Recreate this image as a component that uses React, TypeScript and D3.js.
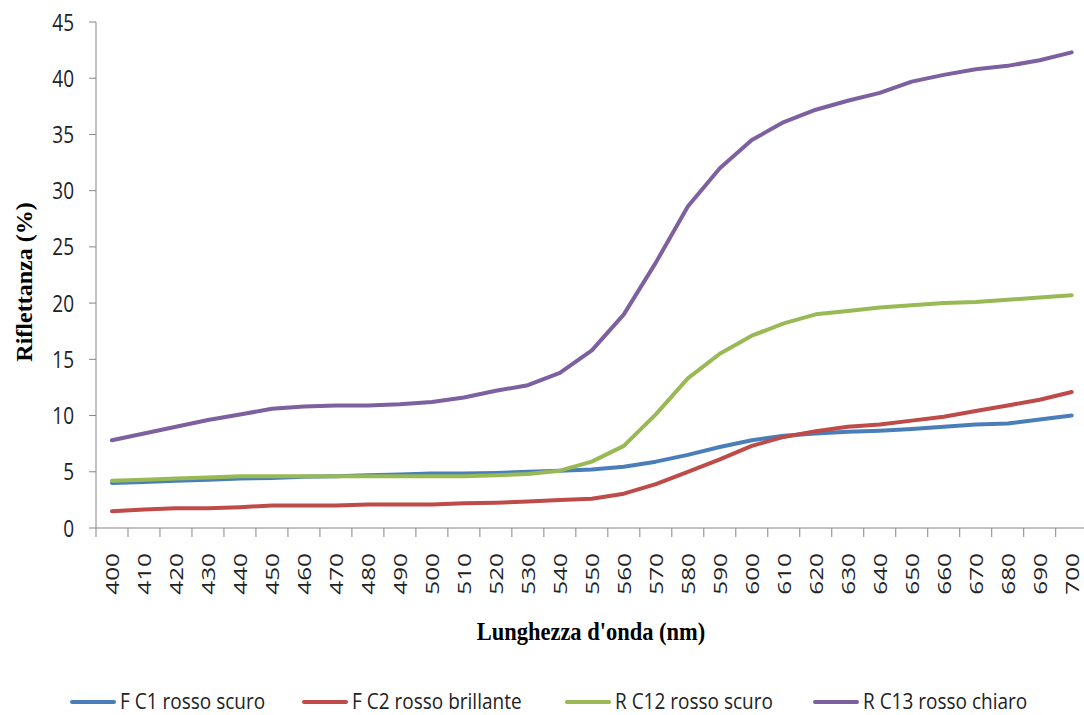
import React from "react";
import * as d3 from "d3";

const wavelengths = [400,410,420,430,440,450,460,470,480,490,500,510,520,530,540,550,560,570,580,590,600,610,620,630,640,650,660,670,680,690,700];
const fc1 = [4.0,4.1,4.2,4.3,4.4,4.45,4.55,4.6,4.7,4.75,4.85,4.85,4.9,5.0,5.1,5.2,5.45,5.9,6.5,7.2,7.8,8.2,8.4,8.55,8.65,8.8,9.0,9.2,9.3,9.65,10.0];
const fc2 = [1.5,1.65,1.75,1.75,1.85,2.0,2.0,2.0,2.1,2.1,2.1,2.2,2.25,2.35,2.5,2.6,3.05,3.9,5.0,6.1,7.3,8.1,8.6,9.0,9.2,9.55,9.9,10.4,10.9,11.4,12.1];
const rc12 = [4.2,4.3,4.4,4.5,4.6,4.6,4.6,4.6,4.6,4.6,4.6,4.6,4.7,4.8,5.1,5.9,7.3,10.1,13.3,15.5,17.1,18.2,19.0,19.3,19.6,19.8,20.0,20.1,20.3,20.5,20.7];
const rc13 = [7.8,8.4,9.0,9.6,10.1,10.6,10.8,10.9,10.9,11.0,11.2,11.6,12.2,12.7,13.8,15.8,19.0,23.6,28.6,32.0,34.5,36.1,37.2,38.0,38.7,39.7,40.3,40.8,41.1,41.6,42.3];
const seriesNames = ["F C1 rosso scuro","F C2 rosso brillante","R C12 rosso scuro","R C13 rosso chiaro"];
const seriesColors = ["#4a7ebb","#be4b48","#98b954","#7d60a0"];
const yTicks = [0,5,10,15,20,25,30,35,40,45];

export default function App() {
  const W = 1084, H = 715;
  const left = 96, top = 22, bottom = 528;
  const bw = 31.99;
  const right = left + bw * wavelengths.length;
  const x = d3.scaleBand<number>().domain(wavelengths).range([left, right]);
  const y = d3.scaleLinear().domain([0, 45]).range([bottom, top]);
  const all = [fc1, fc2, rc12, rc13];
  const line = d3.line<number>()
    .x((_, i) => (x(wavelengths[i]) as number) + x.bandwidth() / 2)
    .y((v) => y(v));
  const axisColor = "#868686";
  const tickFont = "'Open Sans', 'Liberation Sans', sans-serif";
  const legendFont = "'Open Sans', sans-serif";
  const legendX = [70, 302, 565, 813];
  return (
    <svg width={W} height={H} style={{ position: "absolute", left: 0, top: 0 }}>
      <rect width={W} height={H} fill="#fff" />
      {/* y axis */}
      <line x1={left} x2={left} y1={top} y2={bottom} stroke={axisColor} strokeWidth={1} />
      {yTicks.map((t) => (
        <g key={t}>
          <line x1={left - 7} x2={left} y1={y(t)} y2={y(t)} stroke={axisColor} />
          <text transform={`translate(74,${y(t)}) scale(1,1.25)`} dy="0.36em" textAnchor="end" fontFamily={tickFont} fontSize={19} fill="#222">{t}</text>
        </g>
      ))}
      {/* x axis */}
      <line x1={left} x2={right} y1={bottom} y2={bottom} stroke={axisColor} />
      {wavelengths.map((w, i) => (
        <line key={"t" + w} x1={left + i * bw} x2={left + i * bw} y1={bottom} y2={bottom + 9} stroke={axisColor} />
      ))}
      {wavelengths.map((w) => {
        const cx = (x(w) as number) + x.bandwidth() / 2;
        return (
          <text key={"l" + w} transform={`translate(${cx},553) rotate(-90) scale(1.28,1)`} textAnchor="end" dy="0.36em" fontFamily={tickFont} fontSize={19} fill="#222">{w}</text>
        );
      })}
      {/* lines */}
      {all.map((s, k) => (
        <path key={k} d={line(s) as string} fill="none" stroke={seriesColors[k]} strokeWidth={4} strokeLinejoin="round" strokeLinecap="round" />
      ))}
      {/* titles */}
      <text transform="translate(32,282) rotate(-90)" textAnchor="middle" fontFamily="'Liberation Serif', serif" fontWeight="bold" fontSize={24} fill="#000">Riflettanza (%)</text>
      <text transform="translate(591,640) scale(1,1.15)" textAnchor="middle" fontFamily="'Liberation Serif', serif" fontWeight="bold" fontSize={22.5} fill="#000">Lunghezza d'onda (nm)</text>
      {/* legend */}
      {seriesNames.map((n, k) => (
        <g key={n}>
          <line x1={legendX[k] + 2} x2={legendX[k] + 44} y1={702} y2={702} stroke={seriesColors[k]} strokeWidth={4} strokeLinecap="round" />
          <text transform={`translate(${legendX[k] + 50},701) scale(1,1.1)`} dy="0.36em" fontFamily={legendFont} fontSize={19} fill="#222">{n}</text>
        </g>
      ))}
    </svg>
  );
}
